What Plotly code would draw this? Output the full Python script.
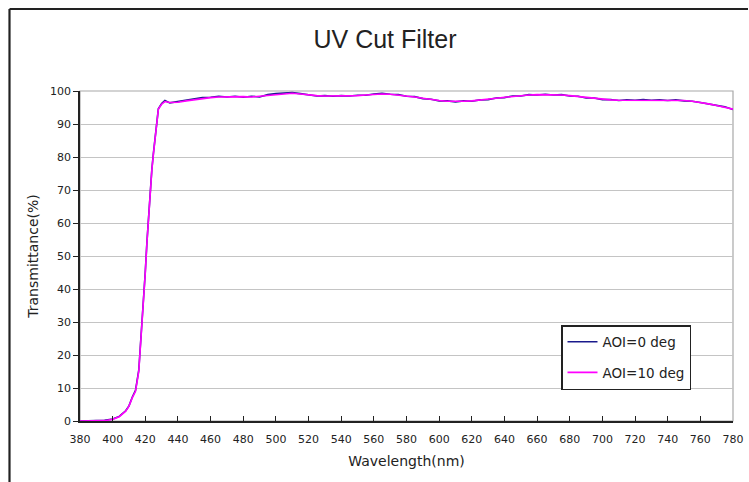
import plotly.graph_objects as go

wavelength = [380, 390, 395, 400, 404, 408, 410, 412, 414, 416, 417, 418, 419, 420, 421, 422, 423,
              424, 425, 426, 427, 428, 430, 432, 435, 440, 445, 450, 455, 460, 465, 470, 475, 480,
              485, 490, 495, 500, 505, 510, 515, 520, 525, 530, 535, 540, 545, 550, 555, 560, 565,
              570, 575, 580, 585, 590, 595, 600, 605, 610, 615, 620, 625, 630, 635, 640, 645, 650,
              655, 660, 665, 670, 675, 680, 685, 690, 695, 700, 705, 710, 715, 720, 725, 730, 735,
              740, 745, 750, 755, 760, 765, 770, 775, 780]

aoi_0 = [0.0, 0.0, 0.2, 0.6, 1.4, 3.1, 4.6, 7.2, 9.3, 15.4, 22.3, 30.2, 37.4, 45.3, 54.2, 62.1,
         69.3, 76.2, 81.3, 86.1, 90.2, 94.6, 96.2, 97.1, 96.4, 96.8, 97.2, 97.6, 98.0, 98.1, 98.4,
         98.2, 98.4, 98.1, 98.4, 98.2, 98.9, 99.2, 99.4, 99.5, 99.2, 98.9, 98.5, 98.6, 98.4, 98.6,
         98.5, 98.7, 98.7, 99.1, 99.3, 99.0, 98.9, 98.4, 98.3, 97.7, 97.5, 97.0, 97.0, 96.7, 97.0,
         96.9, 97.3, 97.4, 97.9, 98.0, 98.5, 98.5, 98.9, 98.8, 99.0, 98.8, 98.9, 98.5, 98.4, 97.9,
         97.9, 97.4, 97.4, 97.1, 97.3, 97.2, 97.4, 97.2, 97.3, 97.1, 97.3, 97.0, 96.9, 96.5, 96.0,
         95.5, 95.2, 94.4]

aoi_10 = [0.0, 0.0, 0.1, 0.5, 1.3, 3.0, 4.5, 7.0, 9.0, 15.0, 22.0, 30.0, 37.0, 45.0, 54.0, 62.0,
          69.0, 76.0, 81.0, 86.0, 90.0, 94.5, 96.0, 96.8, 96.5, 96.6, 97.0, 97.4, 97.8, 98.0, 98.2,
          98.3, 98.2, 98.3, 98.2, 98.4, 98.8, 99.0, 99.2, 99.3, 99.1, 98.8, 98.6, 98.5, 98.5, 98.5,
          98.6, 98.6, 98.8, 99.0, 99.1, 99.0, 98.8, 98.5, 98.2, 97.8, 97.4, 97.1, 96.9, 96.8, 96.9,
          97.0, 97.2, 97.5, 97.8, 98.1, 98.4, 98.6, 98.8, 98.9, 98.9, 98.9, 98.8, 98.6, 98.3, 98.0,
          97.8, 97.5, 97.3, 97.2, 97.2, 97.3, 97.3, 97.3, 97.2, 97.2, 97.2, 97.1, 96.9, 96.6, 96.1,
          95.6, 95.1, 94.5]

series_names = ["AOI=0 deg", "AOI=10 deg"]
x_ticks = list(range(380, 781, 20))
y_ticks = list(range(0, 101, 10))

FONT = "DejaVu Sans"
TITLE_FONT = "Liberation Sans"
TXT = "#222222"

fig = go.Figure()
fig.add_trace(go.Scatter(x=wavelength, y=aoi_0, mode="lines", name=series_names[0],
                         legendgroup="a", line=dict(color="#1a1a8c", width=1.6)))
fig.add_trace(go.Scatter(x=wavelength, y=aoi_10, mode="lines", name=series_names[1],
                         legendgroup="b", line=dict(color="#ff00ff", width=1.6)))

W, H = 749, 482
PL, PR, PT, PB = 80, 733, 91, 421
L, T, R, B = PL, PT, W - PR, H - PB
pw, ph = W - L - R, H - T - B

def px_x(px):
    return (px - PL) / pw

def px_y(py):
    return (PB - py) / ph

fig.update_layout(
    width=W, height=H,
    margin=dict(l=L, r=R, t=T, b=B, autoexpand=False),
    paper_bgcolor="white", plot_bgcolor="white",
    title=dict(text="UV Cut Filter", xref="container", yref="container",
               x=385 / W, xanchor="center", y=1 - 39 / H, yanchor="middle",
               font=dict(family=TITLE_FONT, size=25, color=TXT)),
    showlegend=True,
    legend=dict(x=px_x(561), y=px_y(325), xanchor="left", yanchor="top",
                bgcolor="white", bordercolor="#222222", borderwidth=1.5,
                font=dict(family=FONT, size=13.5, color=TXT), tracegroupgap=10,
                itemwidth=30),
    xaxis=dict(range=[380, 780], tickvals=x_ticks, ticktext=[str(v) for v in x_ticks],
               ticks="inside", ticklen=5, tickcolor="#222", showgrid=False, zeroline=False,
               showline=True, linecolor="#222", linewidth=1.5, ticklabelstandoff=7,
               automargin=False,
               tickfont=dict(family=FONT, size=11, color=TXT),
               title=dict(text="Wavelength(nm)", font=dict(family=FONT, size=14, color=TXT), standoff=11)),
    yaxis=dict(range=[0, 100], tickvals=y_ticks, ticks="outside", ticklen=5, tickcolor="#222",
               showgrid=True, gridcolor="#c4c4c4", gridwidth=1, zeroline=False,
               showline=True, linecolor="#222", linewidth=1.5, automargin=False,
               tickfont=dict(family=FONT, size=11, color=TXT),
               title=dict(text="Transmittance(%)", font=dict(family=FONT, size=14, color=TXT), standoff=8)),
    shapes=[
        dict(type="rect", xref="paper", yref="paper", x0=0, x1=1, y0=0, y1=1,
             line=dict(color="#a8a8a8", width=1.2), layer="below"),
        dict(type="line", xref="paper", yref="paper", x0=px_x(9.5), x1=px_x(748),
             y0=px_y(9), y1=px_y(9), line=dict(color="#222", width=2.2)),
        dict(type="line", xref="paper", yref="paper", x0=px_x(9.5), x1=px_x(9.5),
             y0=px_y(9), y1=px_y(490), line=dict(color="#222", width=2.2)),
    ],
)

fig.write_html("out.html", config={"displayModeBar": False},
               post_script="document.body.style.margin='0';document.body.style.overflow='hidden';")
